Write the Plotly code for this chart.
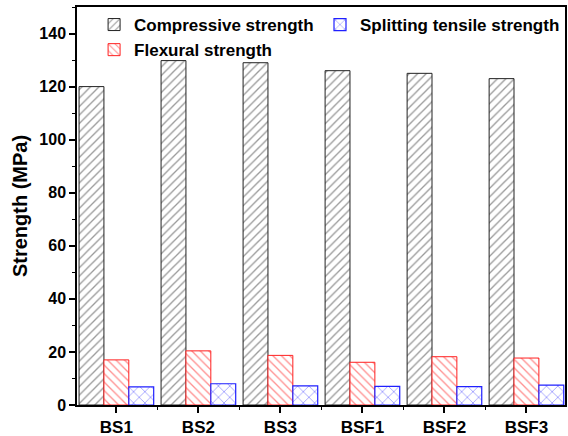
import plotly.graph_objects as go

categories = ["BS1", "BS2", "BS3", "BSF1", "BSF2", "BSF3"]
compressive = [120, 129.8, 129, 126, 125, 123]
flexural = [17.0, 20.4, 18.7, 16.1, 18.2, 17.7]
splitting = [6.8, 8.0, 7.2, 7.0, 6.9, 7.5]
yticks = [0, 20, 40, 60, 80, 100, 120, 140]

xpos = list(range(len(categories)))
FONT = "Liberation Sans, Arial, sans-serif"

fig = go.Figure()
fig.add_trace(go.Bar(
    x=xpos, y=compressive, name="<b>Compressive strength</b>",
    marker=dict(color="white", line=dict(color="#222222", width=1),
                pattern=dict(shape="/", fgcolor="#333333", bgcolor="white", size=6, solidity=0.22)),
    legend="legend",
))
fig.add_trace(go.Bar(
    x=xpos, y=flexural, name="<b>Flexural strength</b>",
    marker=dict(color="white", line=dict(color="#ff2020", width=1),
                pattern=dict(shape="\\", fgcolor="#ff2020", bgcolor="white", size=6, solidity=0.22)),
    legend="legend",
))
fig.add_trace(go.Bar(
    x=xpos, y=splitting, name="<b>Splitting tensile strength</b>",
    marker=dict(color="white", line=dict(color="#2020ff", width=1.2),
                pattern=dict(shape="x", fgcolor="#2020ff", bgcolor="white", size=8, solidity=0.18)),
    legend="legend2",
))

fig.update_layout(
    width=568, height=436,
    margin=dict(l=77, r=3, t=7, b=31),
    plot_bgcolor="white", paper_bgcolor="white",
    barmode="group", bargap=0.09, bargroupgap=0,
    font=dict(family=FONT, color="black"),
    legend=dict(x=0.035, y=1.0, xanchor="left", yanchor="top", bgcolor="rgba(0,0,0,0)",
                font=dict(size=17, family=FONT, color="black"), tracegroupgap=0,
                itemwidth=30),
    legend2=dict(x=1.0, y=1.0, xanchor="right", yanchor="top", bgcolor="rgba(0,0,0,0)",
                 font=dict(size=17, family=FONT, color="black"), itemwidth=30),
    xaxis=dict(
        range=[-0.48, 5.47], tickmode="array", tickvals=xpos,
        ticktext=["<b>%s</b>" % c for c in categories],
        tickfont=dict(size=17, family=FONT, color="black"),
        showline=True, linecolor="black", linewidth=1.5, mirror=True,
        ticks="outside", ticklen=6, tickwidth=1.5, tickcolor="black",
        minor=dict(tickmode="array", tickvals=[-0.5, 0.5, 1.5, 2.5, 3.5, 4.5, 5.5],
                   ticks="outside", ticklen=3, tickwidth=1, tickcolor="black"),
        showgrid=False, zeroline=False, automargin=False,
    ),
    yaxis=dict(
        range=[0, 150], tickmode="array", tickvals=yticks,
        ticktext=["<b>%d</b>" % v for v in yticks],
        tickfont=dict(size=16, family=FONT, color="black"),
        title=dict(text="<b>Strength (MPa)</b>", font=dict(size=20, family=FONT, color="black"), standoff=6),
        showline=True, linecolor="black", linewidth=1.5, mirror=True,
        ticks="outside", ticklen=6, tickwidth=1.5, tickcolor="black",
        minor=dict(dtick=10, ticks="outside", ticklen=3, tickwidth=1, tickcolor="black"),
        showgrid=False, zeroline=False, automargin=False,
    ),
)

fig.write_html("out.html")
